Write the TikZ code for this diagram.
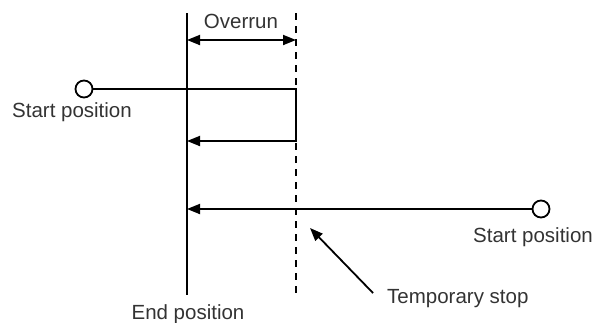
\documentclass[tikz,border=0pt]{standalone}
\usepackage{fontspec}
\setmainfont{Liberation Sans}
\usetikzlibrary{arrows.meta}
\begin{document}
\begin{tikzpicture}[x=1pt,y=-1pt,
  ln/.style={line width=1.8pt,black},
  tip/.style={-{Triangle[length=13pt,width=10pt]}},
  dtip/.style={{Triangle[length=13pt,width=10pt]}-{Triangle[length=13pt,width=10pt]}},
  startpt/.style={circle,draw,line width=1.8pt,minimum size=17pt,inner sep=0pt,fill=white},
  lbl/.style={font=\fontsize{20.5}{24}\selectfont,text=black!80,inner sep=0pt,anchor=base}]
\useasboundingbox (0,0) rectangle (593,322);
% reference lines
\coordinate (eT) at (187,13);
\coordinate (eB) at (187,295);
\coordinate (dT) at (296,13);
\coordinate (dB) at (296,297);
\draw[ln] (eT) -- (eB);
\draw[ln,dash pattern=on 7pt off 6pt] (dT) -- (dB);
% overrun
\coordinate (o1) at (187,40);
\coordinate (o2) at (296,40);
\draw[ln,dtip] (o1) -- (o2);
\node[lbl] (ov) at (241,28) {Overrun};
% first move
\node[startpt] (s1) at (84,89) {};
\coordinate (c1) at (296,89);
\coordinate (c2) at (296,141);
\coordinate (e1) at (187,141);
\draw[ln,tip] (s1.east) -- (c1) -- (c2) -- (e1);
\node[lbl] (sl1) at (72,117) {Start position};
% second move
\node[startpt] (s2) at (541,209) {};
\coordinate (e2) at (187,209);
\draw[ln,tip] (s2.west) -- (e2);
\node[lbl] (sl2) at (533,242) {Start position};
% end position
\node[lbl] (ep) at (188,319) {End position};
% temporary stop
\node[lbl,anchor=base west] (ts) at (387,303) {Temporary stop};
\coordinate (ta) at (373,293);
\coordinate (tb) at (310,228);
\draw[ln,tip] (ta) -- (tb);
\end{tikzpicture}
\end{document}
